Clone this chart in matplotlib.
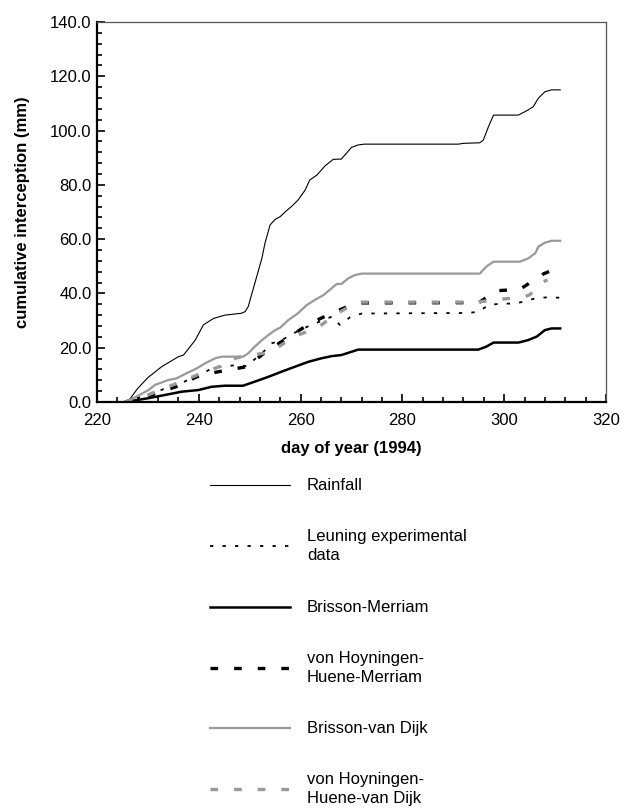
import matplotlib
matplotlib.use('Agg')
import matplotlib.pyplot as plt
from matplotlib.lines import Line2D
import numpy as np

plt.rcParams['font.family'] = ['Liberation Sans', 'DejaVu Sans']
plt.rcParams['font.size'] = 12
plt.rcParams['lines.scale_dashes'] = False

# values
rain_day = [225.5, 226.5, 228, 230, 232.7, 236, 237, 239.3, 240.9, 242.9, 245.1, 248.4, 249.1, 249.7,
            251, 252.4, 253, 254, 255, 256, 257, 258.2, 259.5, 260.9, 261.8, 263.2, 264.8, 266.4,
            268, 270, 271.3, 272.5, 291, 292, 295.2, 295.9, 296.9, 297.9, 302.8, 304.7, 305.7,
            306.7, 308, 309.3, 311]
rain_mm = [0, 1.2, 5.0, 9.0, 13.0, 16.7, 17.3, 22.8, 28.4, 30.8, 32.0, 32.7, 33.3, 35.1,
           43.7, 53.0, 58.5, 65.2, 67.3, 68.3, 70.1, 72.0, 74.4, 78.1, 81.8, 83.6, 87.0, 89.4,
           89.5, 93.8, 94.7, 95.0, 95.0, 95.3, 95.5, 96.5, 101.4, 105.7, 105.7, 107.6, 108.8,
           111.9, 114.3, 115.0, 115.0]

leu_day = [225.5, 228, 230.7, 233, 235.6, 237.6, 240, 242.3, 244.2, 247, 249.4, 252.7, 254.3,
           256.3, 258.6, 260.5, 264.5, 266.2, 267.7, 269.7, 272, 293, 295, 296.9, 299.5, 302,
           303.8, 306.1, 308.7, 311]
leu_mm = [0, 1.5, 3.0, 4.7, 5.9, 7.9, 9.5, 12.2, 13.0, 13.5, 13.2, 18.5, 21.6,
          22.8, 25.3, 27.1, 30.2, 31.5, 28.4, 31.2, 32.6, 32.8, 33.3, 35.7, 36.3, 36.2,
          37.0, 38.2, 38.6, 38.4]

bm_day = [225.5, 230.1, 233.4, 236.6, 239.9, 242.5, 245.1, 248.7, 251, 253.7, 256.3, 258.9,
          261.5, 264.1, 266.1, 268, 270, 271.3, 294.9, 296.5, 297.9, 302.8, 304.7, 306.4,
          308, 309.3, 311]
bm_mm = [0, 1.4, 2.6, 3.8, 4.4, 5.6, 6.0, 6.0, 7.5, 9.3, 11.2, 13.0,
         14.8, 16.1, 16.9, 17.3, 18.5, 19.3, 19.3, 20.4, 21.9, 21.9, 22.8, 24.1,
         26.5, 27.1, 27.1]

vhm_day = [225.5, 230.7, 235.6, 240.2, 245.1, 249.4, 253.2, 257.8, 262, 266.8, 271, 295,
           298.5, 303.1, 307.7, 309]
vhm_mm = [0, 2.6, 5.7, 9.8, 11.6, 13.0, 18.5, 24.1, 29.1, 33.3, 36.5, 36.6,
          41.0, 41.5, 47.2, 48.2]

bvd_day = [225.5, 228, 230.1, 231.4, 234, 235.6, 237.6, 239.6, 241.2, 243.2, 244.5, 248.7,
           249.7, 251, 252.4, 253.7, 255, 256, 257.6, 259.5, 261.2, 262.8, 264.5, 266.1,
           267.1, 268, 269.4, 270.7, 272, 295.2, 296.5, 297.9, 303.1, 304.7, 306.1, 306.7,
           308, 309.3, 311]
bvd_mm = [0, 2.2, 4.4, 6.3, 8.1, 8.7, 10.6, 12.4, 14.2, 16.1, 16.7, 16.7,
          17.9, 20.4, 22.8, 24.7, 26.5, 27.4, 30.2, 32.7, 35.7, 37.6, 39.4, 41.9,
          43.5, 43.5, 45.6, 46.8, 47.3, 47.3, 49.9, 51.7, 51.7, 52.9, 54.8, 57.2,
          58.7, 59.4, 59.4]

vhd_day = [225.5, 230, 235.3, 239.6, 244, 245.1, 249.4, 254, 258.6, 263.5, 267.1, 271.1,
           294.6, 299.5, 303.8, 305, 307.7, 308.5]
vhd_mm = [0, 2.6, 6.6, 9.9, 13.0, 15.2, 17.1, 18.2, 24.0, 27.6, 32.5, 36.8,
          36.8, 37.9, 38.6, 39.5, 44.3, 45.0]

labels = ['Rainfall', 'Leuning experimental\ndata', 'Brisson-Merriam',
          'von Hoyningen-\nHuene-Merriam', 'Brisson-van Dijk', 'von Hoyningen-\nHuene-van Dijk']
styles = [
    dict(color='black', lw=0.8, ls='-'),
    dict(color='black', lw=1.3, ls=(0, (2.4, 6.6))),
    dict(color='black', lw=1.8, ls='-'),
    dict(color='black', lw=2.4, ls=(0, (5.5, 11.5))),
    dict(color='#999999', lw=1.6, ls='-'),
    dict(color='#999999', lw=2.4, ls=(0, (5.5, 11.5))),
]
series = [(rain_day, rain_mm), (leu_day, leu_mm), (bm_day, bm_mm),
          (vhm_day, vhm_mm), (bvd_day, bvd_mm), (vhd_day, vhd_mm)]

fig = plt.figure(figsize=(6.24, 8.10), dpi=100)
ax = fig.add_axes([97 / 624, 1 - 402 / 810, 509 / 624, 380 / 810])

for (d, v), st in zip(series, styles):
    ax.plot(d, v, color=st['color'], lw=st['lw'], linestyle=st['ls'])

ax.set_xlim(220, 320)
ax.set_ylim(0, 140)
ax.set_xticks(np.arange(220, 321, 20))
ax.set_xticks(np.arange(220, 321, 4), minor=True)
ax.set_yticks(np.arange(0, 141, 20))
ax.set_yticks(np.arange(0, 141, 4), minor=True)
ax.set_yticklabels(['%.1f' % t for t in np.arange(0, 141, 20)])
ax.tick_params(which='both', direction='in', width=1.2, top=False, right=False, labelsize=12)
ax.tick_params(which='major', length=6)
ax.tick_params(which='minor', length=3.5)
ax.tick_params(axis='x', which='major', pad=8)
ax.tick_params(axis='y', which='major', pad=4)

for s in ['left', 'bottom']:
    ax.spines[s].set_linewidth(1.6)
    ax.spines[s].set_color('black')
for s in ['top', 'right']:
    ax.spines[s].set_linewidth(0.9)
    ax.spines[s].set_color('#555555')

ax.set_xlabel('day of year (1994)', fontweight='bold', fontsize=12, labelpad=9)
ax.set_ylabel('cumulative interception (mm)', fontweight='bold', fontsize=12, labelpad=14)

# legend below the plot
W, H = 624.0, 810.0
leg_y = [485, 546, 607, 668, 728, 789]
for y, lab, st in zip(leg_y, labels, styles):
    fig.add_artist(Line2D([210 / W, 290 / W], [1 - y / H, 1 - y / H], transform=fig.transFigure,
                          color=st['color'], lw=st['lw'], linestyle=st['ls']))
    fig.text(307 / W, 1 - y / H, lab, va='center', ha='left', fontsize=12, linespacing=1.3)

fig.savefig('out.png', dpi=100)
